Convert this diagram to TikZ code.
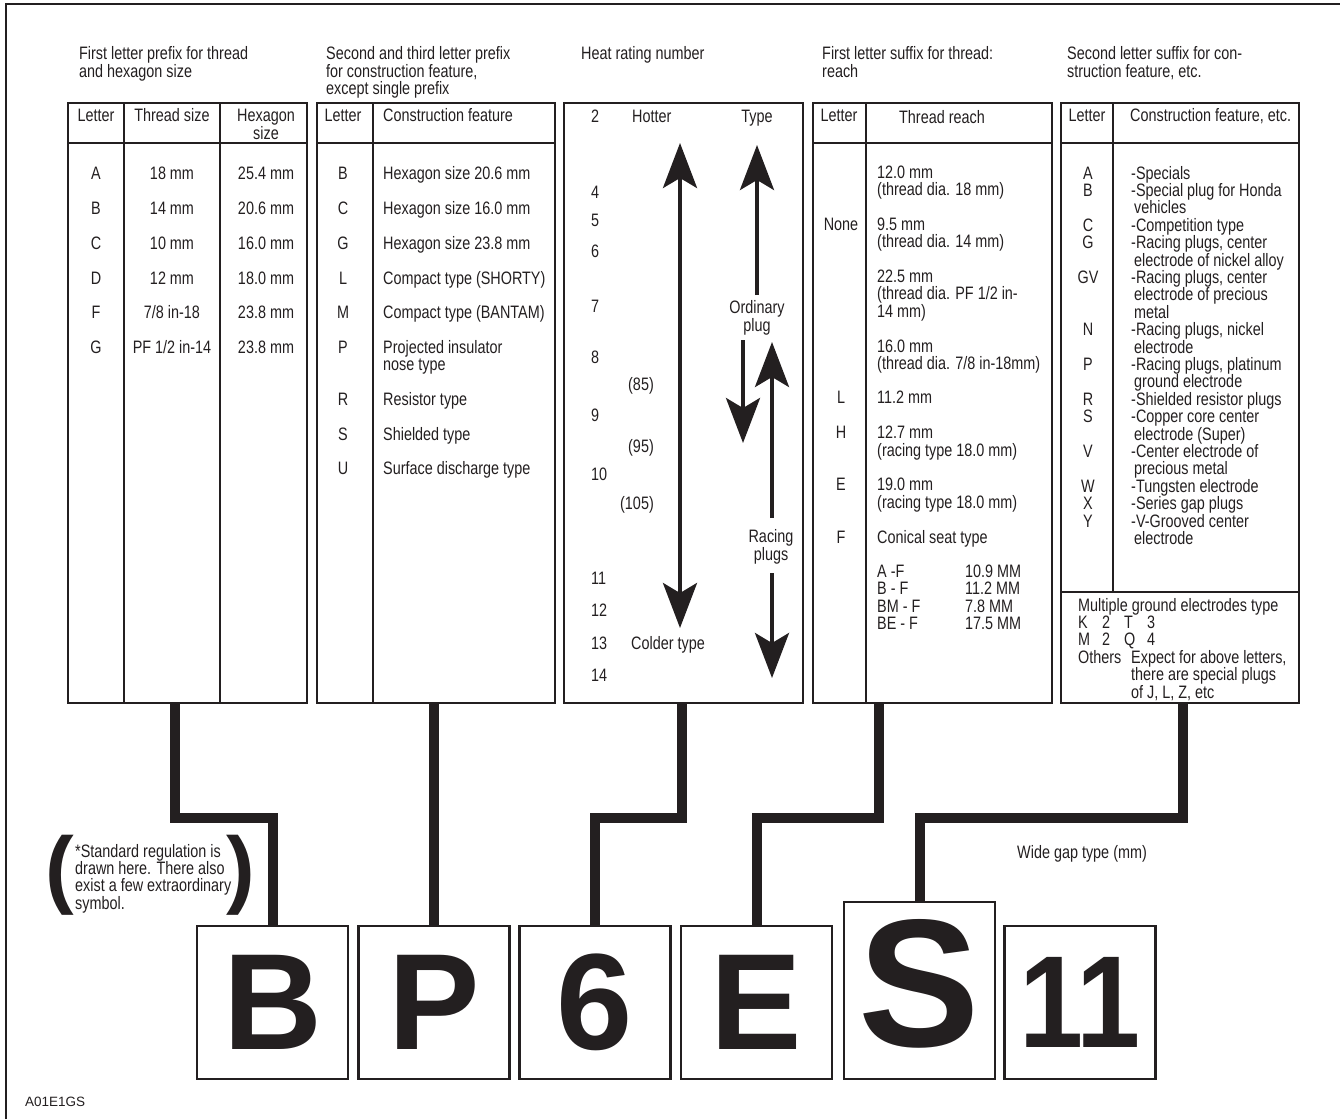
\documentclass[tikz,border=0pt]{standalone}
\usepackage{fontspec}
\setmainfont{Liberation Sans}[FakeStretch=0.8]
\newfontfamily\bigfont{Liberation Sans}
\newfontfamily\narrowbig{Liberation Sans}[FakeStretch=0.88]
\usetikzlibrary{arrows.meta}
\definecolor{ink}{HTML}{231F20}
\begin{document}
\begin{tikzpicture}[x=1pt,y=-1pt,
  txt/.style={inner sep=0pt, text=ink, font=\fontsize{18}{17.4}\selectfont},
  L/.style={txt, anchor=base west},
  C/.style={txt, anchor=base},
  R/.style={txt, anchor=base east},
  tbl/.style={draw=ink, line width=2.5pt, inner sep=0pt, minimum height=600pt},
  grid/.style={draw=ink, line width=2.5pt},
  conn/.style={draw=ink, line width=10pt, line join=miter},
  bigbox/.style={draw=ink, line width=2.5pt, minimum width=151pt, minimum height=153pt, inner sep=0pt, text=ink, font=\bigfont\bfseries\fontsize{137}{137}\selectfont},
  harrow/.style={draw=ink, line width=4pt, >={Stealth[length=45pt,width=34pt,inset=10pt]}},
  paren/.style={inner sep=0pt, text=ink, font=\bigfont\bfseries\fontsize{86}{86}\selectfont}
]
\useasboundingbox (0,0) rectangle (1340,1119);
% frame
\draw[ink, line width=2pt] (6,1119) -- (6,4) -- (1340,4);

% headers
\node[L] (h1a) at (79,59) {First letter prefix for thread};
\node[L] (h1b) at (79,77) {and hexagon size};
\node[L] (h2a) at (326,59) {Second and third letter prefix};
\node[L] (h2b) at (326,77) {for construction feature,};
\node[L] (h2c) at (326,94) {except single prefix};
\node[L] (h3a) at (581,59) {Heat rating number};
\node[L] (h4a) at (822,59) {First letter suffix for thread:};
\node[L] (h4b) at (822,77) {reach};
\node[L] (h5a) at (1067,59) {Second letter suffix for con-};
\node[L] (h5b) at (1067,77) {struction feature, etc.};

% tables
\node[tbl, minimum width=239pt] (t1) at (187.5,403) {};
\node[tbl, minimum width=238pt] (t2) at (436,403) {};
\node[tbl, minimum width=239pt] (t3) at (683.5,403) {};
\node[tbl, minimum width=239pt] (t4) at (932.5,403) {};
\node[tbl, minimum width=238pt] (t5) at (1180,403) {};

% grid lines
\draw[grid] (68,143) -- (307,143);
\draw[grid] (124,103) -- (124,703);
\draw[grid] (220,103) -- (220,703);
\draw[grid] (317,143) -- (555,143);
\draw[grid] (373,103) -- (373,703);
\draw[grid] (813,143) -- (1052,143);
\draw[grid] (866,103) -- (866,703);
\draw[grid] (1061,143) -- (1299,143);
\draw[grid] (1113,103) -- (1113,592);
\draw[grid] (1061,592) -- (1299,592);

% table 1
\node[C] (t1h1) at (96,121) {Letter};
\node[C] (t1h2) at (172,121) {Thread size};
\node[C] (t1h3) at (266,121) {Hexagon};
\node[C] (t1h4) at (266,139) {size};
\node[C] (t1a1) at (96,179) {A};
\node[C] (t1b1) at (172,179) {18 mm};
\node[C] (t1c1) at (266,179) {25.4 mm};
\node[C] (t1a2) at (96,214) {B};
\node[C] (t1b2) at (172,214) {14 mm};
\node[C] (t1c2) at (266,214) {20.6 mm};
\node[C] (t1a3) at (96,249) {C};
\node[C] (t1b3) at (172,249) {10 mm};
\node[C] (t1c3) at (266,249) {16.0 mm};
\node[C] (t1a4) at (96,284) {D};
\node[C] (t1b4) at (172,284) {12 mm};
\node[C] (t1c4) at (266,284) {18.0 mm};
\node[C] (t1a5) at (96,318) {F};
\node[C] (t1b5) at (172,318) {7/8 in-18};
\node[C] (t1c5) at (266,318) {23.8 mm};
\node[C] (t1a6) at (96,353) {G};
\node[C] (t1b6) at (172,353) {PF 1/2 in-14};
\node[C] (t1c6) at (266,353) {23.8 mm};

% table 2
\node[C] (t2h1) at (343,121) {Letter};
\node[L] (t2h2) at (383,121) {Construction feature};
\node[C] (t2a1) at (343,179) {B};
\node[L] (t2b1) at (383,179) {Hexagon size 20.6 mm};
\node[C] (t2a2) at (343,214) {C};
\node[L] (t2b2) at (383,214) {Hexagon size 16.0 mm};
\node[C] (t2a3) at (343,249) {G};
\node[L] (t2b3) at (383,249) {Hexagon size 23.8 mm};
\node[C] (t2a4) at (343,284) {L};
\node[L] (t2b4) at (383,284) {Compact type (SHORTY)};
\node[C] (t2a5) at (343,318) {M};
\node[L] (t2b5) at (383,318) {Compact type (BANTAM)};
\node[C] (t2a6) at (343,353) {P};
\node[L] (t2b6) at (383,353) {Projected insulator};
\node[L] (t2b6b) at (383,370) {nose type};
\node[C] (t2a7) at (343,405) {R};
\node[L] (t2b7) at (383,405) {Resistor type};
\node[C] (t2a8) at (343,440) {S};
\node[L] (t2b8) at (383,440) {Shielded type};
\node[C] (t2a9) at (343,474) {U};
\node[L] (t2b9) at (383,474) {Surface discharge type};

% table 3 (heat rating)
\node[L] (n2) at (591,122) {2};
\node[L] (hot) at (632,122) {Hotter};
\node[C] (typ) at (757,122) {Type};
\node[L] (n4) at (591,198) {4};
\node[L] (n5) at (591,226) {5};
\node[L] (n6) at (591,257) {6};
\node[L] (n7) at (591,312) {7};
\node[C] (ord1) at (757,313) {Ordinary};
\node[C] (ord2) at (757,331) {plug};
\node[L] (n8) at (591,363) {8};
\node[R] (p85) at (654,390) {(85)};
\node[L] (n9) at (591,421) {9};
\node[R] (p95) at (654,452) {(95)};
\node[L] (n10) at (591,480) {10};
\node[R] (p105) at (654,509) {(105)};
\node[C] (rac1) at (771,542) {Racing};
\node[C] (rac2) at (771,560) {plugs};
\node[L] (n11) at (591,584) {11};
\node[L] (n12) at (591,616) {12};
\node[L] (n13) at (591,649) {13};
\node[L] (cold) at (631,649) {Colder type};
\node[L] (n14) at (591,681) {14};

\coordinate (a1t) at (680,143);
\coordinate (a1b) at (680,628);
\coordinate (a2s) at (757,295);
\coordinate (a2t) at (757,145);
\coordinate (a3s) at (743,340);
\coordinate (a3t) at (743,443);
\coordinate (a4s) at (772,518);
\coordinate (a4t) at (772,342);
\coordinate (a5s) at (772,573);
\coordinate (a5t) at (772,678);
\draw[harrow,<->] (a1t) -- (a1b);
\draw[harrow,->] (a2s) -- (a2t);
\draw[harrow,->] (a3s) -- (a3t);
\draw[harrow,->] (a4s) -- (a4t);
\draw[harrow,->] (a5s) -- (a5t);

% table 4
\node[C] (t4h1) at (839,121) {Letter};
\node[C] (t4h2) at (942,123) {Thread reach};
\node[L] (t4r1) at (877,178) {12.0 mm};
\node[L] (t4r2) at (877,195.5) {(thread dia. 18 mm)};
\node[C] (t4none) at (841,230) {None};
\node[L] (t4r3) at (877,230) {9.5 mm};
\node[L] (t4r4) at (877,247.5) {(thread dia. 14 mm)};
\node[L] (t4r5) at (877,282) {22.5 mm};
\node[L] (t4r6) at (877,299.5) {(thread dia. PF 1/2 in-};
\node[L] (t4r7) at (877,317) {14 mm)};
\node[L] (t4r8) at (877,352) {16.0 mm};
\node[L] (t4r9) at (877,369.5) {(thread dia. 7/8 in-18mm)};
\node[C] (t4L) at (841,403) {L};
\node[L] (t4r10) at (877,403) {11.2 mm};
\node[C] (t4H) at (841,438) {H};
\node[L] (t4r11) at (877,438) {12.7 mm};
\node[L] (t4r12) at (877,456) {(racing type 18.0 mm)};
\node[C] (t4E) at (841,490) {E};
\node[L] (t4r13) at (877,490) {19.0 mm};
\node[L] (t4r14) at (877,508) {(racing type 18.0 mm)};
\node[C] (t4F) at (841,543) {F};
\node[L] (t4r15) at (877,543) {Conical seat type};
\node[L] (t4s1) at (877,577) {A -F};
\node[L] (t4v1) at (965,577) {10.9 MM};
\node[L] (t4s2) at (877,594.5) {B - F};
\node[L] (t4v2) at (965,594.5) {11.2 MM};
\node[L] (t4s3) at (877,612) {BM - F};
\node[L] (t4v3) at (965,612) {7.8 MM};
\node[L] (t4s4) at (877,629.5) {BE - F};
\node[L] (t4v4) at (965,629.5) {17.5 MM};

% table 5
\node[C] (t5h1) at (1087,121) {Letter};
\node[L] (t5h2) at (1130,121) {Construction feature, etc.};
\node[C] (t5A) at (1088,179) {A};
\node[L] (t5l0) at (1131,179) {-Specials};
\node[C] (t5B) at (1088,196.4) {B};
\node[L] (t5l1) at (1131,196.4) {-Special plug for Honda};
\node[L] (t5l2) at (1134,213.8) {vehicles};
\node[C] (t5C) at (1088,231.2) {C};
\node[L] (t5l3) at (1131,231.2) {-Competition type};
\node[C] (t5G) at (1088,248.6) {G};
\node[L] (t5l4) at (1131,248.6) {-Racing plugs, center};
\node[L] (t5l5) at (1134,266) {electrode of nickel alloy};
\node[C] (t5GV) at (1088,283.4) {GV};
\node[L] (t5l6) at (1131,283.4) {-Racing plugs, center};
\node[L] (t5l7) at (1134,300.8) {electrode of precious};
\node[L] (t5l8) at (1134,318.2) {metal};
\node[C] (t5N) at (1088,335.6) {N};
\node[L] (t5l9) at (1131,335.6) {-Racing plugs, nickel};
\node[L] (t5l10) at (1134,353) {electrode};
\node[C] (t5P) at (1088,370.4) {P};
\node[L] (t5l11) at (1131,370.4) {-Racing plugs, platinum};
\node[L] (t5l12) at (1134,387.8) {ground electrode};
\node[C] (t5R) at (1088,405.2) {R};
\node[L] (t5l13) at (1131,405.2) {-Shielded resistor plugs};
\node[C] (t5S) at (1088,422.6) {S};
\node[L] (t5l14) at (1131,422.6) {-Copper core center};
\node[L] (t5l15) at (1134,440) {electrode (Super)};
\node[C] (t5V) at (1088,457.4) {V};
\node[L] (t5l16) at (1131,457.4) {-Center electrode of};
\node[L] (t5l17) at (1134,474.8) {precious metal};
\node[C] (t5W) at (1088,492.2) {W};
\node[L] (t5l18) at (1131,492.2) {-Tungsten electrode};
\node[C] (t5X) at (1088,509.6) {X};
\node[L] (t5l19) at (1131,509.6) {-Series gap plugs};
\node[C] (t5Y) at (1088,527) {Y};
\node[L] (t5l20) at (1131,527) {-V-Grooved center};
\node[L] (t5l21) at (1134,544.4) {electrode};

\node[L] (m0) at (1078,611) {Multiple ground electrodes type};
\node[L] (m1a) at (1078,628.4) {K};
\node[L] (m1b) at (1102,628.4) {2};
\node[L] (m1c) at (1124,628.4) {T};
\node[L] (m1d) at (1147,628.4) {3};
\node[L] (m2a) at (1078,645.8) {M};
\node[L] (m2b) at (1102,645.8) {2};
\node[L] (m2c) at (1124,645.8) {Q};
\node[L] (m2d) at (1147,645.8) {4};
\node[L] (m3a) at (1078,663.2) {Others};
\node[L] (m3b) at (1131,663.2) {Expect for above letters,};
\node[L] (m4) at (1131,680.6) {there are special plugs};
\node[L] (m5) at (1131,698) {of J, L, Z, etc};

% code boxes
\node[bigbox] (bB) at (272.5,1002.5) {B};
\node[bigbox] (bP) at (434,1002.5) {P};
\node[bigbox] (b6) at (595,1002.5) {6};
\node[bigbox] (bE) at (756.5,1002.5) {E};
\node[bigbox, minimum height=177pt] (bS) at (919.5,990.5) {};
\node[inner sep=0pt, text=ink, font=\bigfont\bfseries\fontsize{182}{182}\selectfont] (lS) at (919.5,983.5) {S};
\node[bigbox, font=\narrowbig\bfseries\fontsize{131}{131}\selectfont] (b11) at (1080,1002.5) {11};

% connectors
\coordinate (k1) at (175,818);
\coordinate (k3) at (682,818);
\coordinate (k4) at (879,818);
\coordinate (k5) at (1183,818);
\draw[conn] (t1.south -| k1) -- (k1) -| (bB.north);
\draw[conn] (t2.south -| bP.north) -- (bP.north);
\draw[conn] (t3.south -| k3) -- (k3) -| (b6.north);
\draw[conn] (t4.south -| k4) -- (k4) -| (bE.north);
\draw[conn] (t5.south -| k5) -- (k5) -| (bS.north);

% footnote
\node[paren] (pl) at (59.5,875.5) {(};
\node[paren] (pr) at (240.5,875.5) {)};
\node[L] (f1) at (75,857) {*Standard regulation is};
\node[L] (f2) at (75,874.4) {drawn here. There also};
\node[L] (f3) at (75,891.8) {exist a few extraordinary};
\node[L] (f4) at (75,909.2) {symbol.};

\node[L] (wg) at (1017,858) {Wide gap type (mm)};
\node[inner sep=0pt, anchor=base west, text=ink, font=\bigfont\fontsize{13.5}{13.5}\selectfont] (code) at (25,1106) {A01E1GS};
\end{tikzpicture}
\end{document}
